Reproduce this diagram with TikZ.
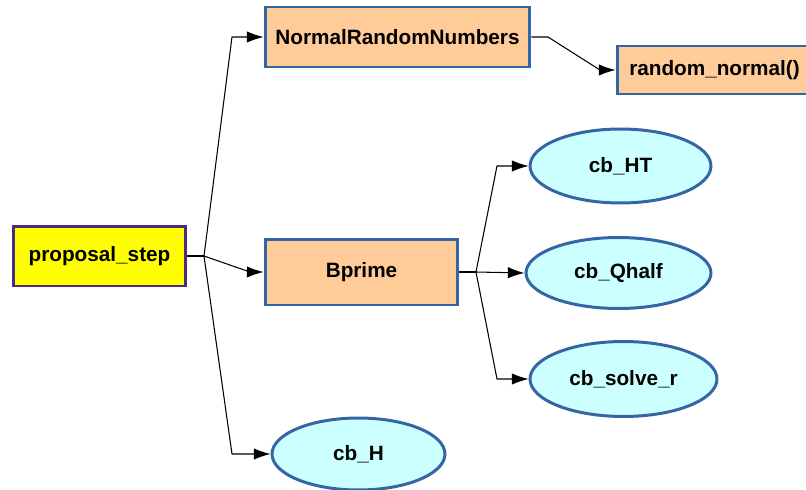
\documentclass[tikz,border=0pt]{standalone}
\usepackage{fontspec}
\setmainfont{Liberation Sans}
\usepackage{xcolor}
\usepackage{tikz}
\usetikzlibrary{arrows.meta}
\usetikzlibrary{shapes.geometric}
\definecolor{stepyellow}{HTML}{FFFF00}
\definecolor{stepborder}{HTML}{4B2C7E}
\definecolor{callpeach}{HTML}{FFCC99}
\definecolor{leafcyan}{HTML}{CCFFFF}
\definecolor{callborder}{HTML}{3465A4}
\tikzset{
    startbox/.style={
           rectangle,
           draw=stepborder, line width=1.7pt,
           fill=stepyellow,
           inner sep=2pt,
           font=\fontsize{11.8}{14}\selectfont\bfseries,
           text centered,
           },
    callbox/.style={
           rectangle,
           draw=callborder, line width=1.7pt,
           fill=callpeach,
           inner sep=2pt,
           font=\fontsize{11.8}{14}\selectfont\bfseries,
           text centered,
           },
    leafcall/.style={
           ellipse,
           draw=callborder, line width=1.7pt,
           fill=leafcyan,
           inner sep=0pt,
           font=\fontsize{11.8}{14}\selectfont\bfseries,
           text centered,
           },
    link/.style={
           -{Latex[length=9.5pt,width=6.5pt]},
           line width=0.6pt,
           },
    stub/.style={
           -,
           line width=0.6pt,
           },
}

\begin{document}
\begin{tikzpicture}[x=0.02cm,y=-0.02cm]
	\useasboundingbox (0,0) rectangle (806,490);

	\node[startbox, minimum width=3.46cm, minimum height=1.2cm] (ps) at (99.5,256) {proposal\_step};

	\node[callbox, minimum width=5.3cm, minimum height=1.2cm] (nrn) at (397.5,37) {NormalRandomNumbers};
	\node[callbox, minimum width=3.9cm, minimum height=0.96cm] (rn) at (714.5,70) {random\_normal()};
	\node[callbox, minimum width=3.86cm, minimum height=1.32cm] (bp) at (361.5,272) {Bprime};

	%leaf calls
	\node[leafcall, minimum width=3.62cm, minimum height=1.48cm] (cbht) at (620.5,166) {cb\_HT};
	\node[leafcall, minimum width=3.7cm, minimum height=1.42cm] (cbq) at (618.5,273) {cb\_Qhalf};
	\node[leafcall, minimum width=3.74cm, minimum height=1.5cm] (cbs) at (623.5,379) {cb\_solve\_r};
	\node[leafcall, minimum width=3.46cm, minimum height=1.44cm] (cbh) at (358.5,454) {cb\_H};

	%EDGES
	\coordinate (ps split) at (204,256);
	\coordinate (ps up) at (232,37);
	\coordinate (ps mid) at (250,272);
	\coordinate (ps down) at (232,454);
	\path[stub]	(ps.east) edge (ps split);
	\draw[link]	(ps split) -- (ps up) -- (nrn.west);
	\draw[link]	(ps split) -- (ps mid) -- (bp.west);
	\draw[link]	(ps split) -- (ps down) -- (cbh.west);

	\coordinate (nrn out) at (548,37);
	\coordinate (rn in) at (600,70);
	\draw[link]	(nrn.east) -- (nrn out) -- (rn in) -- (rn.west);

	\coordinate (bp split) at (476,272);
	\coordinate (bp up) at (497,166);
	\coordinate (bp down) at (497,379);
	\path[stub]	(bp.east) edge (bp split);
	\draw[link]	(bp split) -- (bp up) -- (cbht.west);
	\draw[link]	(bp split) -- (cbq.west);
	\draw[link]	(bp split) -- (bp down) -- (cbs.west);
\end{tikzpicture}
\end{document}
